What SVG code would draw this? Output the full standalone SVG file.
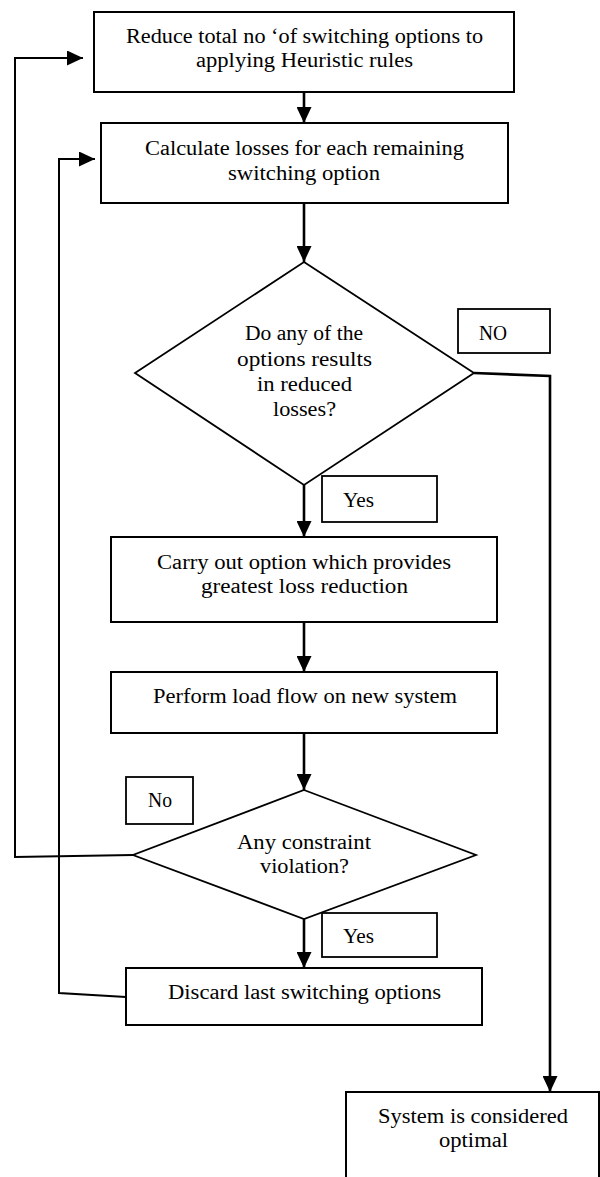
<svg xmlns="http://www.w3.org/2000/svg" width="600" height="1177" viewBox="0 0 600 1177">
<style>
.box{fill:#fff;stroke:#000;stroke-width:2}
.dia{fill:#fff;stroke:#000;stroke-width:1.8}
.lbl{fill:#fff;stroke:#000;stroke-width:1.8}
.t{font-family:"Liberation Serif","Times New Roman",serif;font-size:20.5px;fill:#000}
.ca{fill:none;stroke:#000;stroke-width:2.6;marker-end:url(#ah)}
.cl{fill:none;stroke:#000;stroke-width:2;marker-end:url(#ah)}
</style>
<defs>
<marker id="ah" markerUnits="userSpaceOnUse" markerWidth="16" markerHeight="15" refX="16" refY="7.5" orient="auto">
<path d="M0,0 L16,7.5 L0,15 Z" fill="#000"/>
</marker>
</defs>
<rect width="600" height="1177" fill="#fff"/>
<g id="connectors">
<path class="ca" d="M304,92 V123"/>
<path class="ca" d="M304,203 V262"/>
<path class="ca" d="M304,485 V537"/>
<path class="ca" d="M304,622 V672"/>
<path class="ca" d="M304,733 V790"/>
<path class="ca" d="M304,919 V968"/>
<path class="ca" d="M474,373 L550,376 V1092"/>
<path class="cl" d="M133,855 L15,857 V58 H83"/>
<path class="cl" d="M126,997 L59,993 V159 H95"/>
</g>
<g id="n1">
<rect class="box" x="94" y="12" width="420" height="80"/>
<text class="t" x="126" y="43" textLength="357" lengthAdjust="spacingAndGlyphs">Reduce total no ‘of switching options to</text>
<text class="t" x="196" y="67" textLength="217" lengthAdjust="spacingAndGlyphs">applying Heuristic rules</text>
</g>
<g id="n2">
<rect class="box" x="101" y="123" width="407" height="80"/>
<text class="t" x="145" y="155" textLength="319" lengthAdjust="spacingAndGlyphs">Calculate losses for each remaining</text>
<text class="t" x="228" y="180" textLength="152" lengthAdjust="spacingAndGlyphs">switching option</text>
</g>
<g id="d1">
<polygon class="dia" points="304,262 474,373 304,485 135,373"/>
<text class="t" x="245" y="340" textLength="118" lengthAdjust="spacingAndGlyphs">Do any of the</text>
<text class="t" x="237" y="366" textLength="135" lengthAdjust="spacingAndGlyphs">options results</text>
<text class="t" x="257" y="391" textLength="95" lengthAdjust="spacingAndGlyphs">in reduced</text>
<text class="t" x="273" y="416" textLength="63" lengthAdjust="spacingAndGlyphs">losses?</text>
</g>
<g id="lblNO">
<rect class="lbl" x="458" y="309" width="92" height="44"/>
<text class="t" x="479" y="340" textLength="28" lengthAdjust="spacingAndGlyphs">NO</text>
</g>
<g id="lblYes1">
<rect class="lbl" x="322" y="476" width="115" height="46"/>
<text class="t" x="343" y="507" textLength="31" lengthAdjust="spacingAndGlyphs">Yes</text>
</g>
<g id="n3">
<rect class="box" x="111" y="537" width="386" height="85"/>
<text class="t" x="157" y="569" textLength="294" lengthAdjust="spacingAndGlyphs">Carry out option which provides</text>
<text class="t" x="201" y="593" textLength="207" lengthAdjust="spacingAndGlyphs">greatest loss reduction</text>
</g>
<g id="n4">
<rect class="box" x="111" y="672" width="386" height="61"/>
<text class="t" x="153" y="703" textLength="304" lengthAdjust="spacingAndGlyphs">Perform load flow on new system</text>
</g>
<g id="lblNo">
<rect class="lbl" x="126" y="777" width="67" height="47"/>
<text class="t" x="148" y="807" textLength="24" lengthAdjust="spacingAndGlyphs">No</text>
</g>
<g id="d2">
<polygon class="dia" points="304,790 476,855 304,919 133,855"/>
<text class="t" x="237" y="849" textLength="134" lengthAdjust="spacingAndGlyphs">Any constraint</text>
<text class="t" x="260" y="873" textLength="89" lengthAdjust="spacingAndGlyphs">violation?</text>
</g>
<g id="lblYes2">
<rect class="lbl" x="322" y="913" width="115" height="44"/>
<text class="t" x="343" y="943" textLength="31" lengthAdjust="spacingAndGlyphs">Yes</text>
</g>
<g id="n5">
<rect class="box" x="126" y="968" width="356" height="57"/>
<text class="t" x="168" y="999" textLength="273" lengthAdjust="spacingAndGlyphs">Discard last switching options</text>
</g>
<g id="n6">
<rect class="box" x="346" y="1092" width="253" height="100"/>
<text class="t" x="378" y="1123" textLength="190" lengthAdjust="spacingAndGlyphs">System is considered</text>
<text class="t" x="439" y="1147" textLength="69" lengthAdjust="spacingAndGlyphs">optimal</text>
</g>
</svg>
